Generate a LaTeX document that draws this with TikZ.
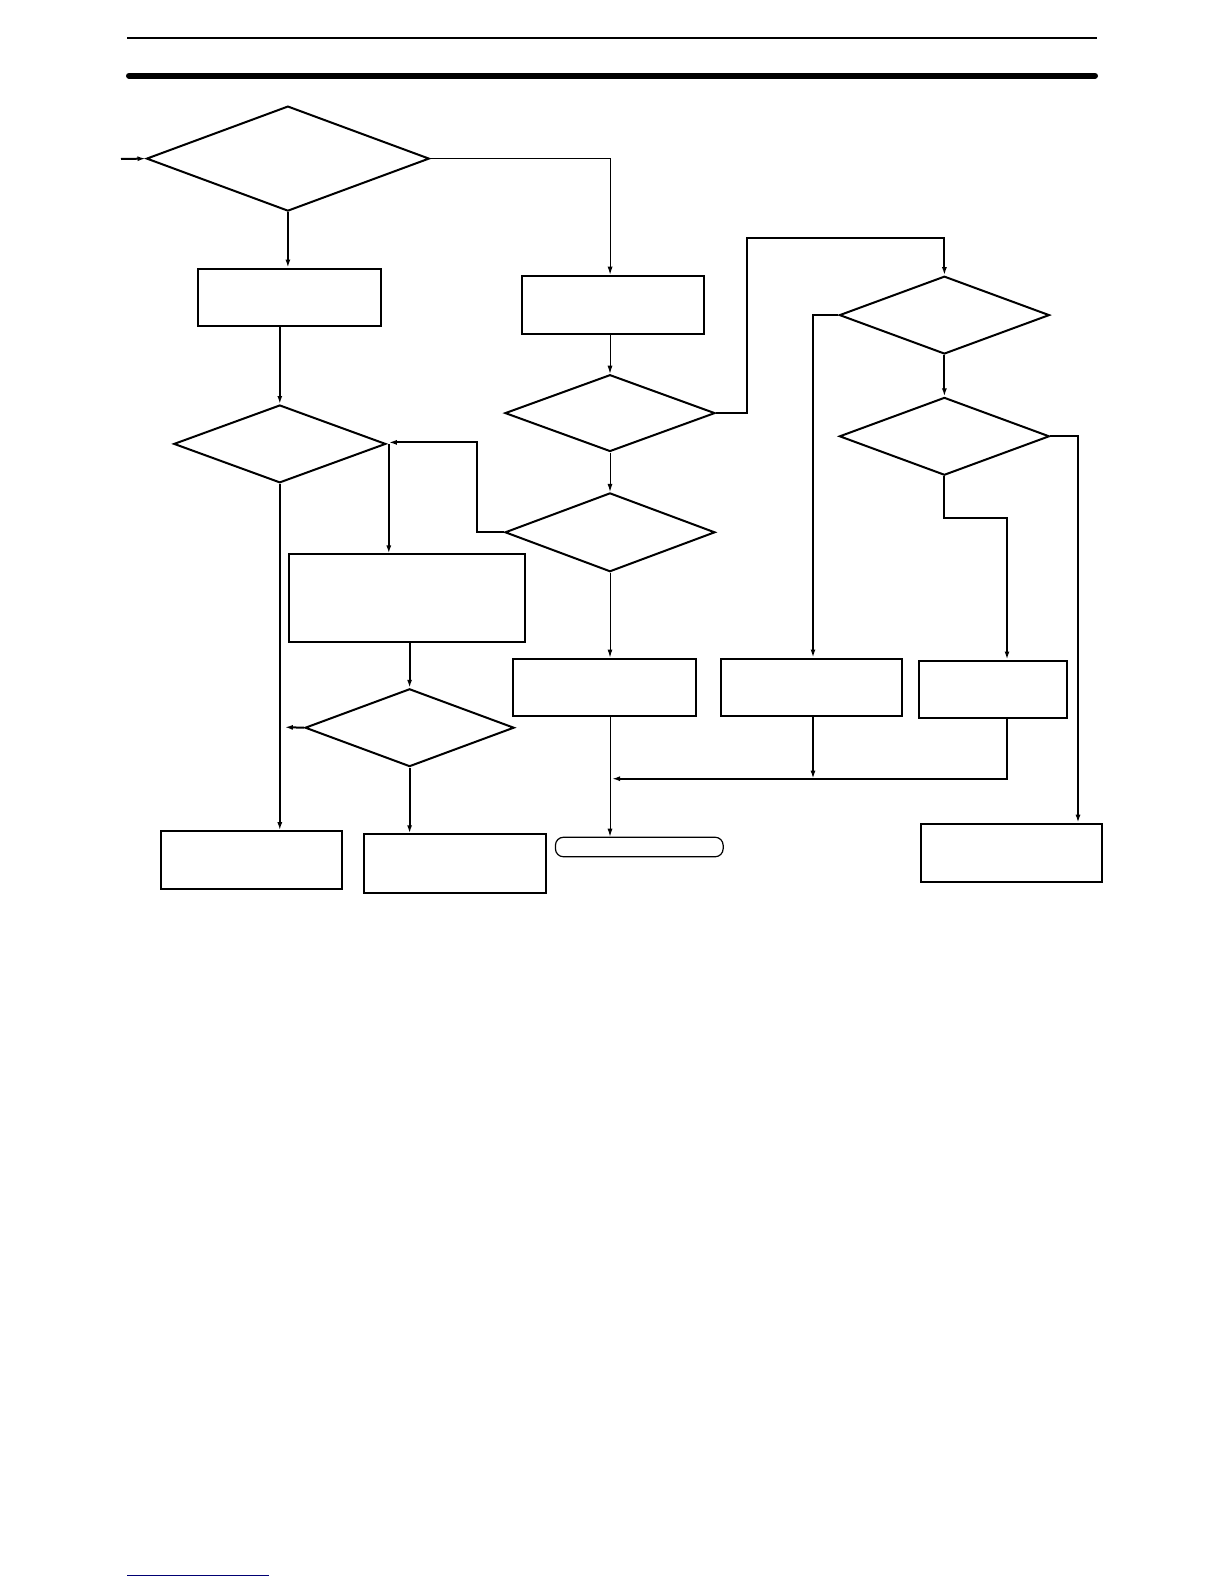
\documentclass[tikz,border=0pt]{standalone}
\usepackage{tikz}
\usetikzlibrary{shapes,arrows,positioning,calc,arrows.meta}

\tikzset{
  decision/.style={diamond, draw, line width=2pt, inner sep=0pt},
  block/.style={rectangle, draw, line width=2pt, inner sep=0pt},
  flow/.style={-{Latex[length=8pt,width=5pt]}, line width=2pt},
  thinflow/.style={-{Latex[length=8pt,width=5pt]}, line width=1pt},
}

\begin{document}
\begin{tikzpicture}[x=1pt, y=-1pt]
    \useasboundingbox (0,0) rectangle (1224,1584);
    % page rules
    \draw [line width=2pt] (127,37.7) -- (1097,37.7);
    \draw [line width=6pt, line cap=round] (129,75.7) -- (1095,75.7);
    \draw [line width=1pt, blue!45!black] (127,1575) -- (269,1575);

    % decisions
    \node [decision, minimum width=282.8pt, minimum height=105pt] (d1) at (287.9,158.6) {};
    \node [decision, minimum width=212pt, minimum height=77.8pt] (d2) at (279.8,443.9) {};
    \node [decision, minimum width=210pt, minimum height=76.8pt] (d3) at (610,413.1) {};
    \node [decision, minimum width=210pt, minimum height=78.8pt] (d4) at (610,532.3) {};
    \node [decision, minimum width=210pt, minimum height=77.8pt] (d5) at (944.4,315.1) {};
    \node [decision, minimum width=209pt, minimum height=77.8pt] (d6) at (409.6,727.7) {};
    \node [decision, minimum width=210pt, minimum height=77.8pt] (d7) at (944.4,436.3) {};

    % blocks
    \node [block, minimum width=182.8pt, minimum height=57.6pt] (b1) at (289.4,297.4) {};
    \node [block, minimum width=181.8pt, minimum height=58.6pt] (b2) at (613.1,305) {};
    \node [block, minimum width=236.3pt, minimum height=87.9pt] (b3) at (407,598.4) {};
    \node [block, minimum width=182.8pt, minimum height=57.6pt] (b4) at (604.5,687.3) {};
    \node [block, minimum width=180.8pt, minimum height=57.6pt] (b5) at (811.5,687.3) {};
    \node [block, minimum width=181.8pt, minimum height=57.6pt] (b6) at (251.5,860) {};
    \node [block, minimum width=182.8pt, minimum height=58.6pt] (b7) at (455,863.6) {};
    \node [block, minimum width=147.5pt, minimum height=57.6pt] (b8) at (992.8,689.3) {};
    \node [block, minimum width=181pt, minimum height=58pt] (b9) at (1011,852.7) {};
    \node [draw, line width=1.2pt, rounded corners=8pt, minimum width=167.7pt, minimum height=19.5pt, inner sep=0pt] (term) at (639.3,847) {};

    % helper points
    \coordinate (in) at (121,159);
    \coordinate (up) at (747.4,238.4);
    \coordinate (back) at (476.7,442.4);
    \coordinate (out) at (284.8,727.2);
    \coordinate (join) at (610,778.7);

    % connectors
    \draw [flow] (in) -- (d1.west);
    \draw [flow] (d1.south) -- (d1.south |- b1.north);
    \draw [thinflow] (d1.east) -| ([xshift=-3pt]b2.north);
    \draw [flow] (d2.north |- b1.south) -- (d2.north);
    \draw [thinflow] (d3.north |- b2.south) -- (d3.north);
    \draw [flow] (d3.east) -| (up) -| (d5.north);
    \draw [thinflow] (d3.south) -- (d4.north);
    \draw [flow] (d4.west) -| (back) -- ([xshift=2pt]back -| d2.east);
    \draw [flow] ([xshift=2pt]d2.east) -- ([xshift=2pt]d2.east |- b3.north);
    \draw [flow] (d2.south) -- (d2.south |- b6.north);
    \draw [flow] (d6.north |- b3.south) -- (d6.north);
    \draw [flow] (d6.west) -- (out);
    \draw [flow] (d6.south) -- (d6.south |- b7.north);
    \draw [thinflow] (d4.south) -- (d4.south |- b4.north);
    \draw [thinflow] (d4.south |- b4.south) -- (d4.south |- term.north);
    \draw [flow] (d5.west) -| ([xshift=1.5pt]b5.north);
    \draw [flow] (d5.south) -- (d7.north);
    \draw [flow] (d7.east) -| ([xshift=67pt]b9.north);
    \draw [flow] (d7.south) -- ++(0,41.4) -| ([xshift=14.2pt]b8.north);
    \draw [flow] ([xshift=1.5pt]b5.south) -- ([xshift=1.5pt]b5.south |- join);
    \draw [flow] ([xshift=14.2pt]b8.south) |- ([xshift=2pt]join);
\end{tikzpicture}
\end{document}
